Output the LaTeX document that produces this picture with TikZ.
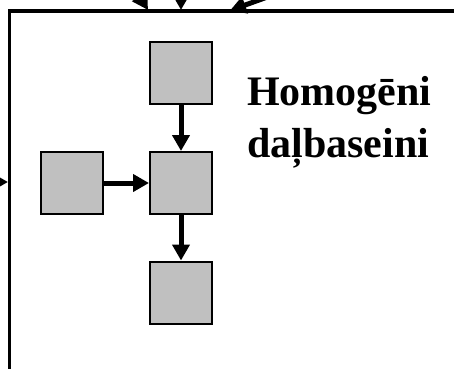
\documentclass[tikz,border=0pt]{standalone}
\usepackage{fontspec}
\setmainfont{Liberation Serif}
\usetikzlibrary{arrows.meta}
\begin{document}
\begin{tikzpicture}[x=1pt,y=-1pt,
  blk/.style={draw=black,line width=2pt,fill={rgb,255:red,192;green,192;blue,192},minimum width=62pt,minimum height=62pt,inner sep=0pt},
  flow/.style={line width=5pt,-{Triangle[length=16pt,width=17pt]}},
  lbl/.style={font=\fontsize{42}{52}\selectfont\bfseries,inner sep=0pt,anchor=base west}]
\clip (0,0) rectangle (454,368);
\fill[white] (0,0) rectangle (454,368);
% outer frame
\draw[line width=3.8pt] (9.5,400) -- (9.5,11) -- (480,11);
% boxes
\node[blk] (top) at (181,73) {};
\node[blk] (mid) at (181,183) {};
\node[blk] (bot) at (181,292.5) {};
\node[blk] (left) at (72,183) {};
\draw[flow] (top) -- (mid);
\draw[flow] (left) -- (mid);
\draw[flow] (mid) -- (bot);
% incoming arrows
\coordinate (a1s) at (120,-35);
\coordinate (a1e) at (148,10);
\coordinate (a2s) at (181,-40);
\coordinate (a2e) at (181,10);
\coordinate (a3s) at (295,-13);
\coordinate (a3e) at (230,10.5);
\coordinate (a4s) at (-40,182);
\coordinate (a4e) at (8,182);
\draw[flow] (a1s) -- (a1e);
\draw[flow] (a2s) -- (a2e);
\draw[flow] (a3s) -- (a3e);
\draw[flow] (a4s) -- (a4e);
% label
\node[lbl] (t1) at (247,105) {Homogēni};
\node[lbl] (t2) at (247,157) {daļbaseini};
\end{tikzpicture}
\end{document}
